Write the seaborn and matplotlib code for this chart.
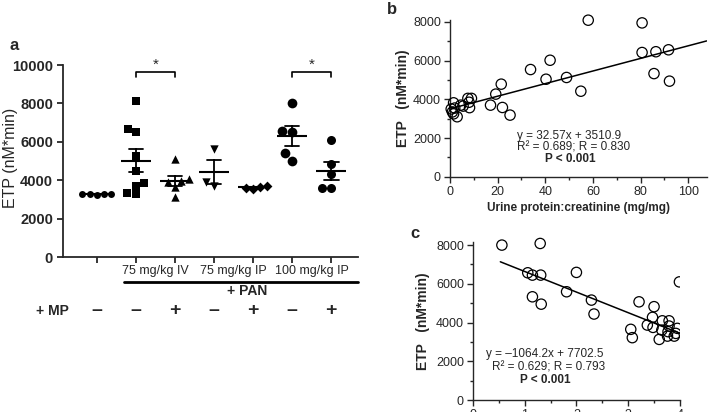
import numpy as np
import pandas as pd
import matplotlib
matplotlib.use("Agg")
import matplotlib.pyplot as plt
import matplotlib.transforms as mtransforms
from matplotlib.patches import Rectangle
from matplotlib.ticker import MultipleLocator
import seaborn as sns

# ---- panel a : ETP per group ----
groups = ["ctrl", "iv", "iv_mp", "ip75", "ip75_mp", "ip100", "ip100_mp"]
etp_ctrl = [3250, 3270, 3280, 3290, 3300]
etp_iv = [8140, 6650, 6525, 5260, 4495, 3850, 3700, 3350, 3265]
etp_iv_mp = [5090, 4080, 3950, 3920, 3630, 3140]
etp_ip75 = [5640, 3920, 3700]
etp_ip75_mp = [3680, 3640, 3620, 3560]
etp_ip100 = [8035, 6580, 6525, 5400, 5016]
etp_ip100_mp = [6094, 4828, 4307, 3578, 3578]
group_markers = ["o", "s", "^", "v", "D", "o", "o"]
dose_labels = ["75 mg/kg IV", "75 mg/kg IP", "100 mg/kg IP"]
mp_signs = ["–", "–", "+", "–", "+", "–", "+"]
sig_pairs = [(1, 2), (5, 6)]

# ---- panel b : ETP vs urine protein:creatinine ----
upc = [1.5, 2.0, 1.0, 1.5, 3.0, 4.5, 0.5, 5.5, 7.5, 9.0, 8.0, 8.2, 17.0, 19.2,
       21.5, 22.0, 25.2, 33.8, 40.3, 42.0, 48.9, 54.9, 58.0, 80.6, 80.6, 86.4,
       91.7, 85.6, 92.1]
etp_b = [3820, 3550, 3350, 3250, 3100, 3700, 3500, 3650, 4050, 4050, 3850, 3570,
         3700, 4270, 4785, 3580, 3185, 5540, 5040, 6020, 5130, 4420, 8090, 7950,
         6420, 6460, 6560, 5330, 4940]
fit_b = (32.57, 3510.9)

# ---- panel c ----
c_x = [0.56, 1.30, 1.06, 1.15, 1.31, 1.15, 1.32, 2.00, 1.81, 2.29, 2.34, 3.05,
       3.08, 3.21, 3.50, 3.47, 3.37, 3.48, 3.66, 3.79, 3.65, 3.79, 3.60, 3.76,
       3.77, 3.89, 3.92, 3.99, 3.95]
etp_c = [8000, 8084, 6570, 6450, 6450, 5330, 4950, 6590, 5590, 5160, 4440, 3650,
         3220, 5070, 4820, 4270, 3870, 3750, 4090, 4090, 3610, 3820, 3130, 3300,
         3530, 3300, 3440, 6100, 3700]
fit_c = (-1064.2, 7702.5)

sns.set_style("white")
plt.rcParams["font.family"] = ["Liberation Sans", "DejaVu Sans"]
plt.rcParams["axes.linewidth"] = 1.0

fig = plt.figure(figsize=(7.09, 4.12), dpi=100)

# ================= panel a =================
ax = fig.add_axes([0.0893, 0.3762, 0.4157, 0.466])
all_vals = [etp_ctrl, etp_iv, etp_iv_mp, etp_ip75, etp_ip75_mp, etp_ip100, etp_ip100_mp]
df = pd.DataFrame({
    "group": np.repeat(groups, [len(v) for v in all_vals]),
    "etp": np.concatenate(all_vals),
})
sizes = [5.0, 6.0, 6.0, 6.0, 5.0, 7.0, 6.5]
for g, m, sz in zip(groups, group_markers, sizes):
    sns.swarmplot(data=df[df["group"] == g], x="group", y="etp", order=groups,
                  marker=m, color="black", size=sz, ax=ax)
sns.pointplot(data=df, x="group", y="etp", order=groups, errorbar="se",
              capsize=0.38, color="black", marker="_", linestyle="none",
              markersize=22, markeredgewidth=1.5,
              err_kws={"linewidth": 1.3}, ax=ax)

ax.set_xlim(-0.86, 6.69)
ax.set_ylim(0, 10000)
ax.set_yticks(range(0, 10001, 2000))
ax.set_yticklabels([str(v) for v in range(0, 10001, 2000)], fontweight="bold", fontsize=10.5)
ax.set_xticks(range(len(groups)))
ax.set_xticklabels([])
ax.set_xticks([1.5, 3.5, 5.5], minor=True)
ax.set_xticklabels(dose_labels, minor=True, fontsize=9)
ax.tick_params(axis="x", which="minor", length=0, pad=6)
ax.tick_params(axis="both", which="major", direction="out", length=4, width=1.3, left=True, bottom=True)
for s in ["left", "bottom"]:
    ax.spines[s].set_linewidth(1.3)
sns.despine(ax=ax)
ax.set_xlabel("")
ax.set_ylabel("ETP (nM*min)", fontsize=11.5)
ax.yaxis.set_label_coords(-0.155, 0.515)

# significance brackets
for a, b in sig_pairs:
    ax.plot([a, a, b, b], [9360, 9620, 9620, 9360], color="black", lw=1.2)
    ax.text((a + b) / 2, 9640, "*", ha="center", va="bottom", fontsize=11)

trans = mtransforms.blended_transform_factory(ax.transData, ax.transAxes)
ax.plot([0.7, 6.69], [-0.129, -0.129], color="black", lw=2, transform=trans, clip_on=False)
ax.text(3.85, -0.175, "+ PAN", transform=trans, ha="center", va="center",
        fontsize=10, fontweight="bold")
ax.text(-1.15, -0.281, "+ MP", transform=trans, ha="center", va="center",
        fontsize=10, fontweight="bold")
for i, sgn in enumerate(mp_signs):
    ax.text(i, -0.281, sgn, transform=trans, ha="center", va="center",
            fontsize=14, fontweight="bold")

fig.text(14 / 709, 1 - 45 / 412, "a", fontsize=12, fontweight="bold", ha="center", va="center")


def style_scatter(axs, xmaj, xmin):
    axs.xaxis.set_major_locator(MultipleLocator(xmaj))
    axs.xaxis.set_minor_locator(MultipleLocator(xmin))
    axs.yaxis.set_major_locator(MultipleLocator(2000))
    axs.yaxis.set_minor_locator(MultipleLocator(1000))
    axs.tick_params(which="major", direction="out", length=4, width=1, labelsize=9,
                    left=True, bottom=True, pad=2.5)
    axs.tick_params(which="minor", direction="out", length=2.5, width=1,
                    left=True, bottom=True)
    sns.despine(ax=axs)


# ================= panel b =================
bx = fig.add_axes([0.6347, 0.571, 0.362, 0.380])
sns.scatterplot(x=upc, y=etp_b, ax=bx, s=55, facecolor="none",
                edgecolor="black", linewidth=0.9, zorder=3, clip_on=False)
bx.set_xlim(0, 107.7)
bx.set_ylim(0, 8090)
xl = np.array(bx.get_xlim())
bx.plot(xl, fit_b[0] * xl + fit_b[1], color="black", lw=1.1)
style_scatter(bx, 20, 10)
bx.set_xlabel("Urine protein:creatinine (mg/mg)", fontsize=8.5, fontweight="bold", labelpad=3)
bx.set_ylabel("ETP   (nM*min)", fontsize=10, fontweight="bold", labelpad=2)
bx.text(0.4636, 0.26, "y = 32.57x + 3510.9", transform=bx.transAxes, ha="center", va="center", fontsize=8.5)
bx.text(0.483, 0.185, "R² = 0.689; R = 0.830", transform=bx.transAxes, ha="center", va="center", fontsize=8.5)
bx.text(0.4675, 0.113, "P < 0.001", transform=bx.transAxes, ha="center", va="center",
        fontsize=8.5, fontweight="bold")
fig.text(392 / 709, 1 - 10 / 412, "b", fontsize=12, fontweight="bold", ha="center", va="center")

# ================= panel c =================
cx = fig.add_axes([0.667, 0.0291, 0.292, 0.384])
sns.scatterplot(x=c_x, y=etp_c, ax=cx, s=55, facecolor="none",
                edgecolor="black", linewidth=0.9, zorder=3)
# the original panel is cut at its right edge, but points may rise above the top
clip_box = Rectangle((-0.1, -0.1), 1.1, 1.3, transform=cx.transAxes, fill=False, visible=False)
cx.add_patch(clip_box)
for coll in cx.collections:
    coll.set_clip_path(clip_box)
cx.set_xlim(0, 4.0)
cx.set_ylim(0, 8170)
xc = np.array([min(c_x) - 0.03, cx.get_xlim()[1]])
cx.plot(xc, fit_c[0] * xc + fit_c[1], color="black", lw=1.1)
style_scatter(cx, 1, 0.5)
cx.set_ylabel("ETP   (nM*min)", fontsize=10, fontweight="bold", labelpad=4)
cx.text(0.348, 0.29, "y = –1064.2x + 7702.5", transform=cx.transAxes, ha="center", va="center", fontsize=8.5)
cx.text(0.367, 0.208, "R² = 0.629; R = 0.793", transform=cx.transAxes, ha="center", va="center", fontsize=8.5)
cx.text(0.348, 0.126, "P < 0.001", transform=cx.transAxes, ha="center", va="center",
        fontsize=8.5, fontweight="bold")
fig.text(415 / 709, 1 - 233 / 412, "c", fontsize=12, fontweight="bold", ha="center", va="center")

fig.savefig("out.png", dpi=100)
